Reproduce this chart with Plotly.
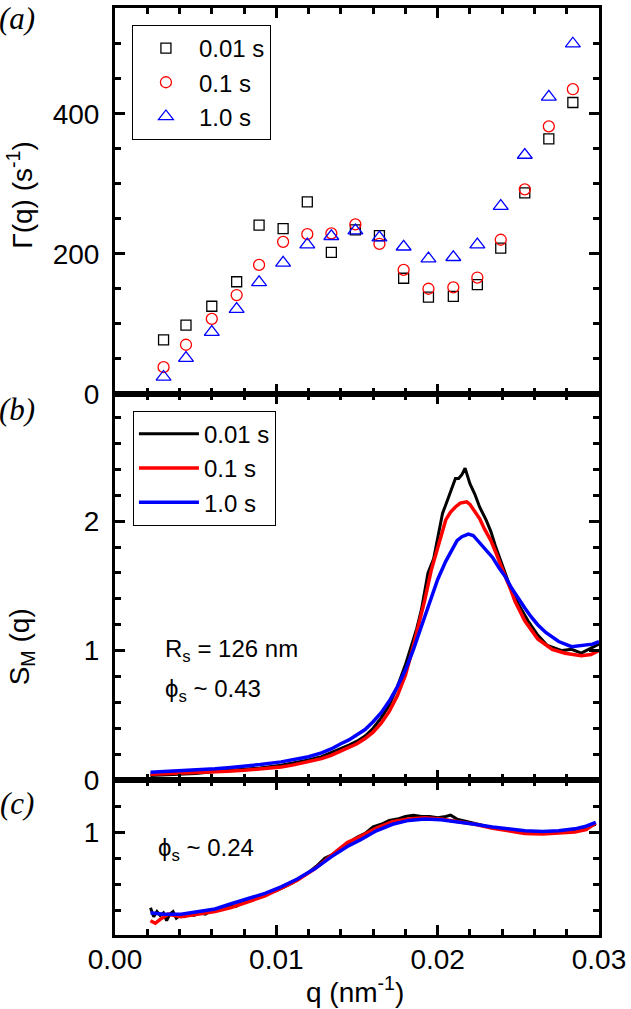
import plotly.graph_objects as go

# ---------------- data ----------------
series_names = ["0.01 s", "0.1 s", "1.0 s"]
series_colors = ["#000000", "#ff0000", "#0000ff"]

# panel (a): relaxation rate
q_a = [0.00301, 0.00440, 0.00600, 0.00754, 0.00893, 0.01042, 0.01192, 0.01341, 0.01490,
       0.01639, 0.01789, 0.01943, 0.02097, 0.02246, 0.02391, 0.02540, 0.02689, 0.02838]
gamma_001 = [77, 98, 125, 160, 241, 236, 274, 202, 234, 226, 165, 138, 139, 156, 208, 287, 364, 416]
gamma_01 = [38, 70, 107, 141, 184, 217, 228, 229, 242, 214, 177, 150, 152, 166, 220, 292, 382, 435]
gamma_1 = [24, 51, 88, 121, 159, 187, 213, 225, 233, 223, 210, 193, 195, 213, 268, 341, 424, 500]

# panel (b): S_M(q), phi_s ~ 0.43
q_b_001 = [0.0022, 0.0030, 0.0040, 0.0050, 0.0062, 0.0070, 0.0080, 0.0090, 0.0103, 0.0110,
           0.0120, 0.0128, 0.0134, 0.0140, 0.0145, 0.0150, 0.0155, 0.0160, 0.0165, 0.0170,
           0.0175, 0.0180, 0.0184, 0.0187, 0.0190, 0.0194, 0.01975, 0.0200, 0.0203, 0.0206,
           0.0209, 0.0211, 0.0213, 0.0215, 0.0217, 0.0220, 0.0223, 0.0226, 0.0230, 0.0233,
           0.0236, 0.0239, 0.0242, 0.0245, 0.0250, 0.0256, 0.0262, 0.0268, 0.0277, 0.0283,
           0.0289, 0.0294, 0.0300]
s_b_001 = [0.035, 0.040, 0.045, 0.050, 0.065, 0.072, 0.082, 0.093, 0.115, 0.13,
           0.155, 0.18, 0.21, 0.24, 0.27, 0.30, 0.34, 0.40, 0.48, 0.58,
           0.72, 0.89, 1.05, 1.17, 1.32, 1.60, 1.71, 1.86, 2.06, 2.16,
           2.26, 2.33, 2.33, 2.36, 2.41, 2.29, 2.21, 2.11, 2.01, 1.92,
           1.80, 1.70, 1.59, 1.49, 1.36, 1.23, 1.12, 1.04, 1.00, 1.01,
           0.98, 1.01, 1.05]

q_b_01 = [0.0022, 0.0030, 0.0040, 0.0050, 0.0062, 0.0070, 0.0080, 0.0090, 0.0103, 0.0110,
          0.0120, 0.0128, 0.0134, 0.0140, 0.0145, 0.0150, 0.0155, 0.0160, 0.0165, 0.0170,
          0.0175, 0.0180, 0.0184, 0.0188, 0.0192, 0.0196, 0.0199, 0.0202, 0.0205, 0.0208,
          0.0211, 0.0214, 0.0218, 0.0220, 0.0223, 0.0226, 0.0229, 0.0233, 0.0236, 0.0239,
          0.0242, 0.0245, 0.0248, 0.0254, 0.0262, 0.0271, 0.0279, 0.0289, 0.0295, 0.0300]
s_b_01 = [0.045, 0.048, 0.050, 0.055, 0.060, 0.068, 0.075, 0.085, 0.10, 0.115,
          0.14, 0.165, 0.19, 0.225, 0.25, 0.28, 0.32, 0.37, 0.44, 0.53,
          0.65, 0.81, 0.99, 1.18, 1.39, 1.62, 1.75, 1.90, 2.01, 2.07,
          2.11, 2.14, 2.15, 2.13, 2.08, 2.02, 1.94, 1.85, 1.76, 1.66,
          1.57, 1.48, 1.38, 1.23, 1.09, 1.01, 0.98, 0.96, 0.97, 1.00]

q_b_1 = [0.0022, 0.0030, 0.0040, 0.0050, 0.0062, 0.0070, 0.0080, 0.0090, 0.0103, 0.0110,
         0.0120, 0.0128, 0.0134, 0.0140, 0.0145, 0.0150, 0.0155, 0.0160, 0.0165, 0.0170,
         0.0175, 0.0180, 0.0185, 0.0190, 0.0195, 0.0200, 0.0205, 0.0209, 0.0212,
         0.0215, 0.0219, 0.0222, 0.0225, 0.0229, 0.0234, 0.0238, 0.0242, 0.0246, 0.0250,
         0.0254, 0.0258, 0.0262, 0.0267, 0.0275, 0.0283, 0.0291, 0.0296, 0.0300]
s_b_1 = [0.06, 0.065, 0.07, 0.075, 0.087, 0.095, 0.105, 0.12, 0.14, 0.155,
         0.18, 0.21, 0.24, 0.28, 0.31, 0.35, 0.39, 0.45, 0.52, 0.61,
         0.72, 0.85, 1.01, 1.19, 1.38, 1.55, 1.69, 1.79, 1.85,
         1.88, 1.90, 1.89, 1.85, 1.79, 1.72, 1.64, 1.57, 1.48, 1.40,
         1.33, 1.26, 1.20, 1.14, 1.07, 1.03, 1.04, 1.05, 1.07]

# panel (c): S_M(q), phi_s ~ 0.24
q_c_001 = [0.0022, 0.0024, 0.0026, 0.0028, 0.0030, 0.0032, 0.0034, 0.0036, 0.0038, 0.0040,
           0.0043, 0.0046, 0.0049, 0.0052, 0.0056, 0.0060, 0.0065, 0.0070, 0.0075, 0.0080,
           0.0085, 0.0090, 0.0095, 0.0100, 0.0105, 0.0110, 0.0115, 0.0120, 0.0125, 0.0130,
           0.0135, 0.0140, 0.0145, 0.0150, 0.0155, 0.0160, 0.0165, 0.0170, 0.0175, 0.0180,
           0.0185, 0.0190, 0.0195, 0.0200, 0.0205, 0.0208, 0.0212, 0.0218, 0.0225, 0.0232,
           0.0240, 0.0250, 0.0260, 0.0270, 0.0280, 0.0290, 0.0298]
s_c_001 = [0.42, 0.35, 0.39, 0.36, 0.38, 0.32, 0.37, 0.39, 0.34, 0.36,
           0.35, 0.37, 0.36, 0.38, 0.37, 0.40, 0.41, 0.44, 0.43, 0.47,
           0.48, 0.51, 0.53, 0.55, 0.58, 0.61, 0.65, 0.69, 0.74, 0.80,
           0.83, 0.88, 0.92, 0.96, 0.99, 1.04, 1.06, 1.09, 1.10, 1.12,
           1.13, 1.12, 1.12, 1.11, 1.12, 1.13, 1.10, 1.08, 1.06, 1.04,
           1.02, 1.00, 1.00, 1.00, 1.01, 1.03, 1.06]

q_c_01 = [0.0022, 0.0025, 0.0028, 0.0033, 0.0037, 0.0041, 0.0046, 0.0051, 0.0062, 0.0072,
          0.0082, 0.0093, 0.0103, 0.0113, 0.0124, 0.0134, 0.0144, 0.0151, 0.0162, 0.0172,
          0.0182, 0.0192, 0.0202, 0.0213, 0.0223, 0.0234, 0.0244, 0.0254, 0.0265, 0.0275,
          0.0285, 0.0292, 0.0298]
s_c_01 = [0.32, 0.30, 0.33, 0.37, 0.36, 0.35, 0.36, 0.37, 0.39, 0.42,
          0.46, 0.51, 0.57, 0.63, 0.72, 0.82, 0.92, 0.96, 1.03, 1.08,
          1.10, 1.11, 1.10, 1.08, 1.06, 1.03, 1.01, 0.99, 0.985, 0.99,
          1.00, 1.02, 1.07]

q_c_1 = [0.0022, 0.0030, 0.0041, 0.0050, 0.0062, 0.0072, 0.0082, 0.0093, 0.0103, 0.0113,
         0.0124, 0.0134, 0.0144, 0.0152, 0.0162, 0.0172, 0.0182, 0.0192, 0.0202, 0.0213,
         0.0223, 0.0234, 0.0244, 0.0254, 0.0265, 0.0275, 0.0285, 0.0292, 0.0298]
s_c_1 = [0.38, 0.37, 0.37, 0.39, 0.41, 0.45, 0.49, 0.53, 0.58, 0.64,
         0.72, 0.81, 0.89, 0.94, 1.01, 1.06, 1.09, 1.10, 1.095, 1.08,
         1.06, 1.04, 1.025, 1.01, 1.005, 1.01, 1.025, 1.045, 1.075]

x_ticks = [0.00, 0.01, 0.02, 0.03]
x_ticklabels = ["0.00", "0.01", "0.02", "0.03"]

# ---------------- figure ----------------
W, H = 631, 1009
ML, MR, MT, MB = 115, 30, 5, 74
PW, PH = W - ML - MR, H - MT - MB


def px_x(px):
    return (px - ML) / PW


def px_y(py):
    return (H - MB - py) / PH


fig = go.Figure()

symbols = ["square-open", "circle-open", "triangle-up-open"]
sizes = [10, 11, 13]
for name, col, sym, sz, g in zip(series_names, series_colors, symbols, sizes,
                                 [gamma_001, gamma_01, gamma_1]):
    fig.add_trace(go.Scatter(
        x=q_a, y=g, mode="markers", name=name, xaxis="x", yaxis="y", legend="legend",
        marker=dict(symbol=sym, size=sz, color=col, line=dict(color=col, width=1.3)),
    ))

widths = [3, 3.5, 3.5]
for name, col, w, qq, ss in zip(series_names, series_colors, widths,
                                [q_b_001, q_b_01, q_b_1], [s_b_001, s_b_01, s_b_1]):
    fig.add_trace(go.Scatter(
        x=qq, y=ss, mode="lines", name=name, xaxis="x2", yaxis="y2", legend="legend2",
        line=dict(color=col, width=w),
    ))

for name, col, w, qq, ss in zip(series_names, series_colors, widths,
                                [q_c_001, q_c_01, q_c_1], [s_c_001, s_c_01, s_c_1]):
    fig.add_trace(go.Scatter(
        x=qq, y=ss, mode="lines", name=name, xaxis="x3", yaxis="y3", showlegend=False,
        line=dict(color=col, width=w),
    ))

tickfont = dict(family="Liberation Sans, Arial, sans-serif", size=28, color="black")

common = dict(showline=True, linewidth=3, linecolor="black", mirror="ticks",
              ticks="inside", ticklen=10, tickwidth=3, tickcolor="black",
              showgrid=False, zeroline=False, tickfont=tickfont)


def xax(anchor, labels):
    d = dict(common)
    d.update(anchor=anchor, domain=[0, 1], range=[0, 0.03],
             tickmode="array", tickvals=x_ticks, ticktext=x_ticklabels,
             showticklabels=labels, ticklabelstandoff=-3,
             minor=dict(dtick=0.002, tick0=0, ticklen=6, tickwidth=3,
                        tickcolor="black", ticks="inside"))
    return d


def yax(anchor, domain, rng, dtick, minor_dtick):
    d = dict(common)
    d.update(anchor=anchor, domain=domain, range=rng, dtick=dtick, tick0=0,
             ticklabelstandoff=7,
             minor=dict(dtick=minor_dtick, tick0=0, ticklen=6, tickwidth=3,
                        tickcolor="black", ticks="inside"))
    return d


dom_a = [px_y(392), 1.0]
dom_b = [px_y(779.5), px_y(392)]
dom_c = [0.0, px_y(779.5)]

legfont = dict(family="Liberation Sans, Arial, sans-serif", size=24, color="black")

fig.update_layout(
    width=W, height=H,
    margin=dict(l=ML, r=MR, t=MT, b=MB),
    paper_bgcolor="white", plot_bgcolor="white",
    xaxis=xax("y", False),
    xaxis2=xax("y2", False),
    xaxis3=xax("y3", True),
    yaxis=yax("x", dom_a, [0, 551], 200, 50),
    yaxis2=yax("x2", dom_b, [0, 2.985], 1, 0.2),
    yaxis3=yax("x3", dom_c, [0.21, 1.40], 1, 0.2),
    legend=dict(x=px_x(132), y=px_y(22), xanchor="left", yanchor="top",
                bordercolor="black", borderwidth=1, bgcolor="white",
                font=legfont, itemwidth=56, tracegroupgap=0),
    legend2=dict(x=px_x(133), y=px_y(409), xanchor="left", yanchor="top",
                 bordercolor="black", borderwidth=1, bgcolor="white",
                 font=legfont, itemwidth=60, tracegroupgap=0),
    showlegend=True,
)

ann_font = dict(family="Liberation Sans, Arial, sans-serif", size=24, color="black")
label_font = dict(family="Liberation Serif, Times New Roman, serif", size=31, color="black")
title_font = dict(family="Liberation Sans, Arial, sans-serif", size=28, color="black")

annotations = [
    dict(text="<i>(a)</i>", x=px_x(17), y=px_y(16), font=label_font),
    dict(text="<i>(b)</i>", x=px_x(17), y=px_y(408), font=label_font),
    dict(text="<i>(c)</i>", x=px_x(17), y=px_y(803), font=label_font),
    dict(text="Γ(q) (s<sup>-1</sup>)", x=px_x(20), y=px_y(192), font=title_font, textangle=-90),
    dict(text="S<sub>M</sub> (q)", x=px_x(22), y=px_y(646), font=title_font, textangle=-90),
    dict(text="q (nm<sup>-1</sup>)", x=px_x(356), y=px_y(990), font=title_font),
]
for a in annotations:
    a.update(xref="paper", yref="paper", xanchor="center", yanchor="middle",
             showarrow=False)

texts = [
    dict(text="R<sub>s</sub> = 126 nm", x=px_x(163), y=px_y(650)),
    dict(text="\u03d5<sub>s</sub> ~ 0.43", x=px_x(163), y=px_y(690)),
    dict(text="\u03d5<sub>s</sub> ~ 0.24", x=px_x(156), y=px_y(849)),
]
for t in texts:
    t.update(xref="paper", yref="paper", xanchor="left", yanchor="middle",
             showarrow=False, font=ann_font)

fig.update_layout(annotations=annotations + texts)

fig.write_html("out.html",
               config={"displayModeBar": False},
               post_script="document.body.style.margin='0';document.body.style.padding='0';")
